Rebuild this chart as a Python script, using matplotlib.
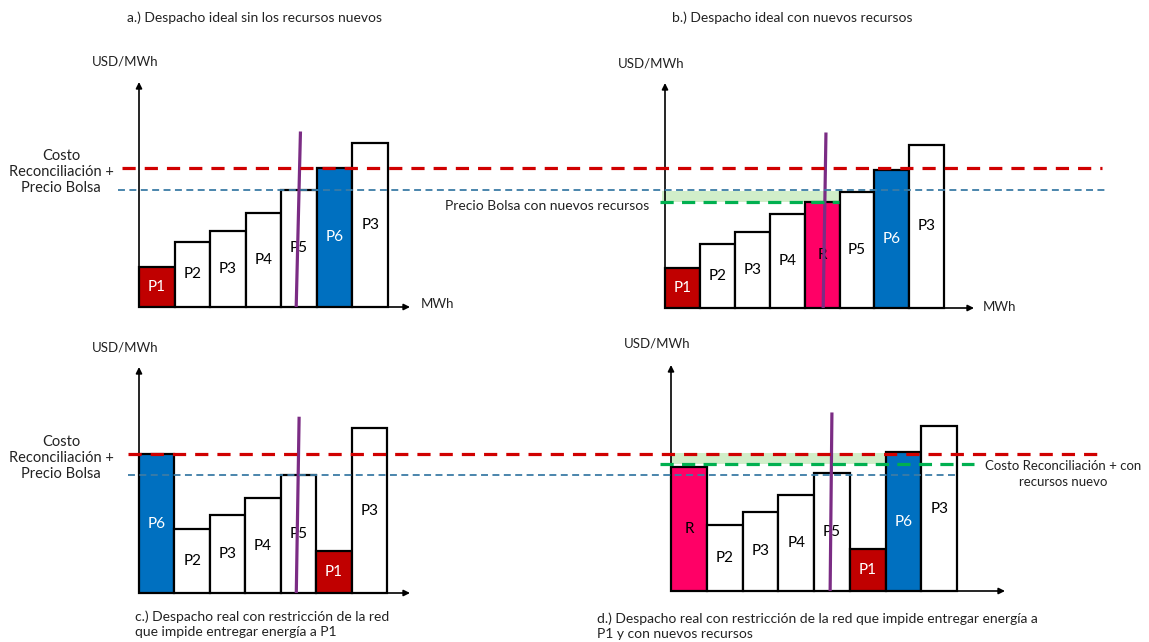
import matplotlib.pyplot as plt
from matplotlib.lines import Line2D
from matplotlib.transforms import blended_transform_factory

plt.rcParams['font.family'] = ['Lato', 'DejaVu Sans']
plt.rcParams['lines.scale_dashes'] = False

W, H = 1149, 642

# merit order of each case (price in USD/MWh, 1 block = 1 unit of MWh)
labels_a = ['P1', 'P2', 'P3', 'P4', 'P5', 'P6', 'P3']
prices_a = [18, 29, 34, 42, 52, 62, 73]

labels_b = ['P1', 'P2', 'P3', 'P4', 'R', 'P5', 'P6', 'P3']
prices_b = [18, 28.5, 34, 42, 47, 51.5, 61.5, 72.5]

labels_c = ['P6', 'P2', 'P3', 'P4', 'P5', 'P1', 'P3']
prices_c = [61.5, 28.5, 34.5, 42, 52, 18.5, 73]

labels_d = ['R', 'P2', 'P3', 'P4', 'P5', 'P1', 'P6', 'P3']
prices_d = [55, 29, 35, 42.5, 52, 18.5, 61.5, 73]

# demand line: x at top, x at bottom, height of top
demand_a = [4.54, 4.42, 78]
demand_b = [4.61, 4.53, 78]
demand_c = [4.52, 4.44, 78]
demand_d = [4.50, 4.45, 79]

# reference prices
costo_rec_top = 62      # Costo Reconciliacion + Precio Bolsa (a, b)
precio_bolsa_top = 52
precio_bolsa_b = 52
precio_nuevo_b = 47     # Precio Bolsa con nuevos recursos
costo_rec_bot = 61.5    # (c, d)
precio_bolsa_bot = 52
costo_rec_d = 61
costo_nuevo_d = 56      # Costo Reconciliacion con recursos nuevos

fill = {'P1': '#C00000', 'P6': '#0070C0', 'R': '#FF0066'}
txt_col = {'P1': 'white', 'P6': 'white'}
purple = '#7B2C84'
red = '#D00000'
blue = '#3B7CA6'
green = '#00B050'

fig = plt.figure(figsize=(W / 100, H / 100), dpi=100)


def add_panel(box, xmax, labels, prices, demand):
    x0, y0, x1, y1 = box
    ax = fig.add_axes([x0 / W, 1 - y0 / H, (x1 - x0) / W, (y0 - y1) / H])
    ax.set_xlim(0, xmax)
    ax.set_ylim(0, 100)
    ax.axis('off')
    cols = [fill.get(l, 'white') for l in labels]
    ax.bar(range(len(prices)), prices, width=1, align='edge', color=cols,
           edgecolor='black', linewidth=1.6, zorder=2, clip_on=False)
    for i, (l, p) in enumerate(zip(labels, prices)):
        ax.text(i + 0.5, p / 2, l, ha='center', va='center', fontsize=11,
                color=txt_col.get(l, 'black'), zorder=3)
    ax.plot([demand[0], demand[1]], [demand[2], 0], color=purple, lw=2.3,
            zorder=6, solid_capstyle='butt', clip_on=False)
    arrow = dict(arrowstyle='-|>', color='black', lw=1.2, mutation_scale=9,
                 shrinkA=0, shrinkB=0)
    ax.annotate('', xy=(xmax, 0), xytext=(0, 0), arrowprops=arrow,
                annotation_clip=False)
    ax.annotate('', xy=(0, 100), xytext=(0, 0), arrowprops=arrow,
                annotation_clip=False)
    return ax


ax_a = add_panel((139, 307, 410, 82), 7.62, labels_a, prices_a, demand_a)
ax_b = add_panel((665, 308, 974, 83), 8.85, labels_b, prices_b, demand_b)
ax_c = add_panel((139, 593, 410, 367), 7.65, labels_c, prices_c, demand_c)
ax_d = add_panel((671, 591, 1005, 365), 9.34, labels_d, prices_d, demand_d)


def hline(ax, x0, x1, level, color, lw, dashes, z=8):
    tr = blended_transform_factory(fig.transFigure, ax.transData)
    ln = Line2D([x0 / W, x1 / W], [level, level], transform=tr, color=color,
                lw=lw, zorder=z, linestyle=dashes)
    fig.add_artist(ln)


red_dash = (0, (9.5, 6.5))
blue_dash = (0, (5, 3.2))
green_dash = (0, (9.5, 6))

# green bands (price change caused by new resources)
ax_b.fill_between([-0.1, 5], precio_nuevo_b, precio_bolsa_b, color='#C9EBC0',
                  alpha=0.85, lw=0, zorder=1, clip_on=False)
ax_d.fill_between([0, 6], costo_nuevo_d, costo_rec_d, color='#C9EBC0',
                  alpha=0.85, lw=0, zorder=1, clip_on=False)

hline(ax_a, 122, 1102, costo_rec_top, red, 2.3, red_dash)
hline(ax_a, 118, 1105, precio_bolsa_top, blue, 1.3, blue_dash)
hline(ax_b, 660, 839, precio_nuevo_b, green, 2.3, green_dash)
hline(ax_c, 128, 1105, costo_rec_bot, red, 2.3, red_dash)
hline(ax_c, 128, 957, precio_bolsa_bot, blue, 1.3, blue_dash)
hline(ax_d, 660, 974, costo_nuevo_d, green, 2.3, green_dash)


def ftext(x, y, s, **kw):
    fig.text(x / W, 1 - y / H, s, va='center', color='#222222', **kw)


fs = 10
ftext(127, 18, 'a.) Despacho ideal sin los recursos nuevos', ha='left', fontsize=fs)
ftext(672, 18, 'b.) Despacho ideal con nuevos recursos', ha='left', fontsize=fs)
for x, y in [(125, 61), (651, 63), (125, 347), (657, 343)]:
    ftext(x, y, 'USD/MWh', ha='center', fontsize=9.5)
ftext(437, 304, 'MWh', ha='center', fontsize=9.5)
ftext(999, 307, 'MWh', ha='center', fontsize=9.5)
for y in (172, 458):
    ftext(61, y, 'Costo\nReconciliación +\nPrecio Bolsa', ha='center',
          fontsize=10.5, linespacing=1.2)
ftext(547, 206, 'Precio Bolsa con nuevos recursos', ha='center', fontsize=fs)
ftext(1063, 474, 'Costo Reconciliación + con\nrecursos nuevo', ha='center',
      fontsize=9.5, linespacing=1.3)
ftext(135, 624, 'c.) Despacho real con restricción de la red\n'
      'que impide entregar energía a P1', ha='left', fontsize=fs,
      linespacing=1.25)
ftext(597, 626, 'd.) Despacho real con restricción de la red que impide '
      'entregar energía a\nP1 y con nuevos recursos', ha='left', fontsize=fs,
      linespacing=1.25)

fig.savefig('out.png', dpi=100)
